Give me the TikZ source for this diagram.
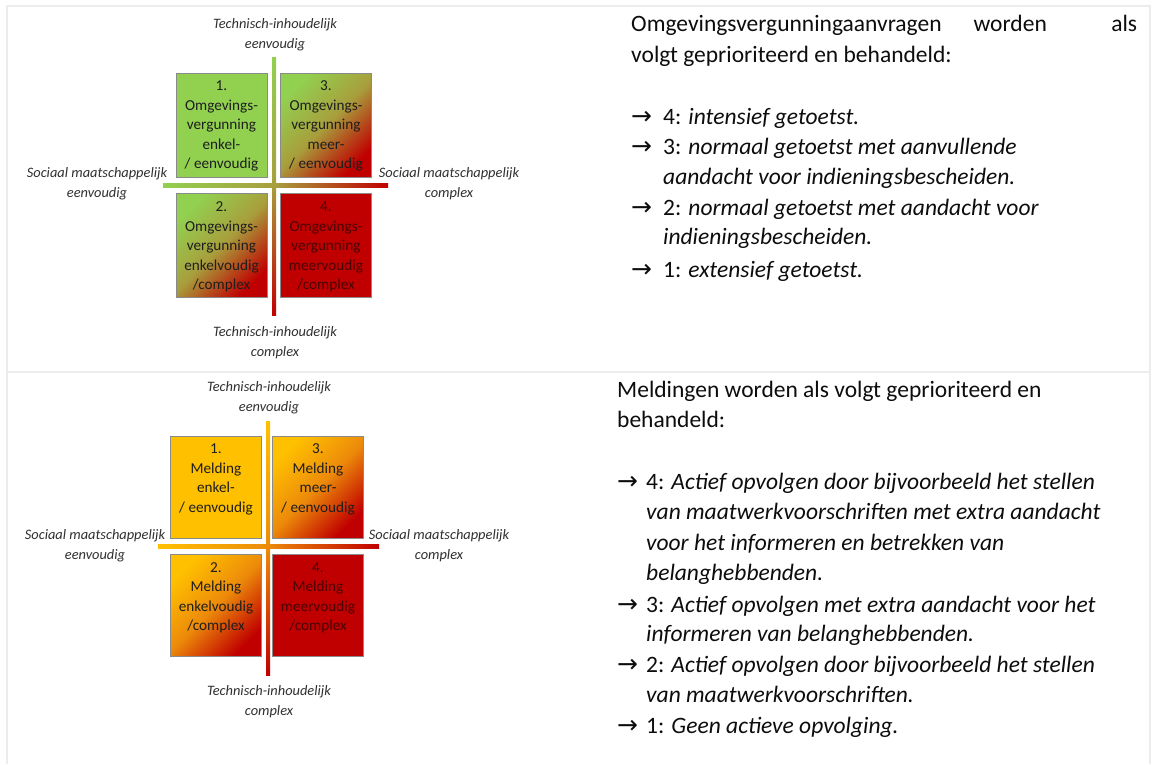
\documentclass[tikz,border=0pt]{standalone}
\usepackage{fontspec}
\setmainfont{Carlito}
\newfontfamily\symfont{DejaVu Sans}
\definecolor{lgreen}{HTML}{92D050}
\definecolor{qred}{HTML}{C00000}
\definecolor{qyel}{HTML}{FFC000}
\definecolor{gmid}{HTML}{A89E3C}
\definecolor{ymid}{HTML}{EC8A0A}
\definecolor{boxgray}{HTML}{8A8A8A}
\definecolor{framegray}{HTML}{ECECEC}
\definecolor{axgray}{HTML}{303030}
\definecolor{bodytxt}{HTML}{0D0D0D}
\definecolor{qtxt}{HTML}{1E1E1E}
\definecolor{rtxt}{HTML}{480404}
\tikzset{
  qbox/.style={draw=boxgray, line width=0.8pt, minimum width=91pt, minimum height=104pt, inner sep=0pt},
  qtext/.style={anchor=north, inner sep=0pt, align=center, font=\fontsize{15.2}{19.6}\selectfont, text=qtxt},
  axlabel/.style={anchor=north, inner sep=0pt, align=center, font=\fontsize{14.4}{19.5}\selectfont\itshape, text=axgray},
  body/.style={anchor=base west, inner sep=0pt, font=\fontsize{23.5}{30.5}\selectfont, text=bodytxt},
  frame/.style={draw=framegray, line width=1.5pt},
  gshade/.style={top color=lgreen, bottom color=qred, middle color=gmid, shading angle=45},
  yshade/.style={top color=qyel, bottom color=qred, middle color=ymid, shading angle=45}
}
\newcommand{\arr}{{\symfont\fontsize{25}{25}\selectfont →}}
\begin{document}
\begin{tikzpicture}[x=1pt,y=-1pt]
\useasboundingbox (0,0) rectangle (1157,764);
\fill[white] (0,0) rectangle (1157,764);
% frame
\draw[frame] (7,764) -- (7,6) -- (1150,6) -- (1150,764);
\draw[frame] (7,372) -- (1150,372);

% ===== top quadrant =====
\shade[top color=lgreen, bottom color=qred, middle color=gmid] (272,57) rectangle (276,315);
\shade[left color=lgreen, right color=qred, middle color=gmid] (163,183) rectangle (388,187);
\node[qbox, fill=lgreen] (tb1) at (221.5,125) {};
\node[qbox, gshade] (tb3) at (326,125) {};
\node[qbox, gshade] (tb2) at (221.5,245.5) {};
\node[qbox, fill=qred] (tb4) at (326,245.5) {};
\node[qtext] (tt1) at ([yshift=-4pt]tb1.north) {\strut 1.\\Omgevings-\\vergunning\\enkel-\\/ eenvoudig};
\node[qtext] (tt3) at ([yshift=-4pt]tb3.north) {\strut 3.\\Omgevings-\\vergunning\\meer-\\/ eenvoudig};
\node[qtext] (tt2) at ([yshift=-4.5pt]tb2.north) {\strut 2.\\Omgevings-\\vergunning\\enkelvoudig\\/complex};
\node[qtext, text=rtxt] (tt4) at ([yshift=-4.5pt]tb4.north) {\strut 4.\\Omgevings-\\vergunning\\meervoudig\\/complex};
\node[axlabel] (tlt) at (275,15) {\strut Technisch-inhoudelijk\\eenvoudig};
\node[axlabel] (tlb) at (275,323) {\strut Technisch-inhoudelijk\\complex};
\node[axlabel] (tll) at (97,164) {\strut Sociaal maatschappelijk\\eenvoudig};
\node[axlabel] (tlr) at (449,164) {\strut Sociaal maatschappelijk\\complex};

% ===== bottom quadrant =====
\shade[top color=qyel, bottom color=qred, middle color=ymid] (266,421) rectangle (270,675);
\shade[left color=qyel, right color=qred, middle color=ymid] (158,544) rectangle (379,548);
\node[qbox, fill=qyel, minimum height=102pt] (bb1) at (216,487) {};
\node[qbox, yshade, minimum height=102pt] (bb3) at (318,487) {};
\node[qbox, yshade, minimum height=102pt] (bb2) at (216,605.5) {};
\node[qbox, fill=qred, minimum height=102pt] (bb4) at (318,605.5) {};
\node[qtext] (bt1) at ([yshift=-4pt]bb1.north) {\strut 1.\\Melding\\enkel-\\/ eenvoudig};
\node[qtext] (bt3) at ([yshift=-4pt]bb3.north) {\strut 3.\\Melding\\meer-\\/ eenvoudig};
\node[qtext] (bt2) at ([yshift=-4pt]bb2.north) {\strut 2.\\Melding\\enkelvoudig\\/complex};
\node[qtext, text=rtxt] (bt4) at ([yshift=-4pt]bb4.north) {\strut 4.\\Melding\\meervoudig\\/complex};
\node[axlabel] (blt) at (269,378) {\strut Technisch-inhoudelijk\\eenvoudig};
\node[axlabel] (blb) at (269,682) {\strut Technisch-inhoudelijk\\complex};
\node[axlabel] (bll) at (95,526) {\strut Sociaal maatschappelijk\\eenvoudig};
\node[axlabel] (blr) at (439,526) {\strut Sociaal maatschappelijk\\complex};

% ===== top text =====
\node[body] (ta1) at (631,31) {\makebox[506pt][l]{Omgevingsvergunningaanvragen\hspace{32pt}worden\hfill als}};
\node[body] (ta2) at (631,62) {volgt geprioriteerd en behandeld:};
\node[body] (ti4) at (631,124) {\makebox[32pt][l]{\arr}4: \textit{intensief getoetst.}};
\node[body] (ti3) at (631,154) {\makebox[32pt][l]{\arr}3: \textit{normaal getoetst met aanvullende}};
\node[body] (ti3b) at (663,184) {\textit{aandacht voor indieningsbescheiden.}};
\node[body] (ti2) at (631,215) {\makebox[32pt][l]{\arr}2: \textit{normaal getoetst met aandacht voor}};
\node[body] (ti2b) at (663,244) {\textit{indieningsbescheiden.}};
\node[body] (ti1) at (631,277) {\makebox[32pt][l]{\arr}1: \textit{extensief getoetst.}};

% ===== bottom text =====
\node[body] (ba1) at (617,397) {Meldingen worden als volgt geprioriteerd en};
\node[body] (ba2) at (617,427) {behandeld:};
\node[body] (bi4) at (617,489) {\makebox[29pt][l]{\arr}4: \textit{Actief opvolgen door bijvoorbeeld het stellen}};
\node[body] (bi4b) at (646,519) {\textit{van maatwerkvoorschriften met extra aandacht}};
\node[body] (bi4c) at (646,550) {\textit{voor het informeren en betrekken van}};
\node[body] (bi4d) at (646,580) {\textit{belanghebbenden.}};
\node[body] (bi3) at (617,612) {\makebox[29pt][l]{\arr}3: \textit{Actief opvolgen met extra aandacht voor het}};
\node[body] (bi3b) at (646,641) {\textit{informeren van belanghebbenden.}};
\node[body] (bi2) at (617,672) {\makebox[29pt][l]{\arr}2: \textit{Actief opvolgen door bijvoorbeeld het stellen}};
\node[body] (bi2b) at (646,702) {\textit{van maatwerkvoorschriften.}};
\node[body] (bi1) at (617,733) {\makebox[29pt][l]{\arr}1: \textit{Geen actieve opvolging.}};
\end{tikzpicture}
\end{document}
